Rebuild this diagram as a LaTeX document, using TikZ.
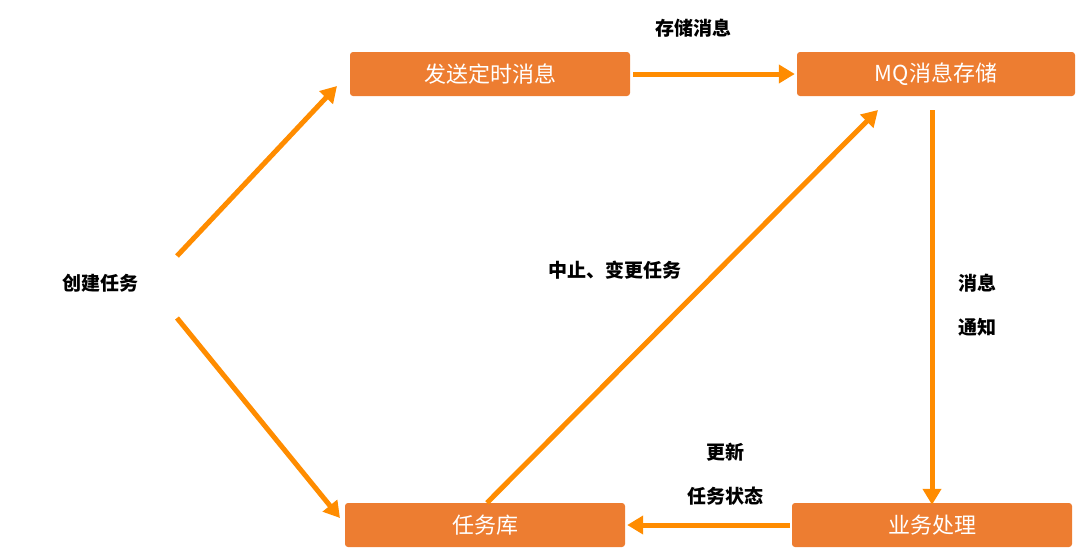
\documentclass[tikz,border=0pt]{standalone}
\usepackage{fontspec}
\setmainfont{Noto Sans CJK SC}
\usetikzlibrary{arrows.meta}
\definecolor{boxor}{HTML}{ED7D31}
\definecolor{arror}{HTML}{FF8C00}
\begin{document}
\begin{tikzpicture}[x=1pt,y=-1pt,
  box/.style={fill=boxor,rounded corners=3pt,minimum width=280pt,minimum height=44pt,text=white,font=\fontsize{22}{26}\selectfont,inner sep=0pt},
  arr/.style={draw=arror,line width=5pt,-{Triangle[length=16pt,width=18pt]}},
  lab/.style={font=\fontsize{19}{23}\selectfont\bfseries,text=black}]
\useasboundingbox (0,0) rectangle (1080,558);
\node[box] (send) at (490,74) {发送定时消息};
\node[box,minimum width=278pt] (mq) at (936,74) {MQ消息存储};
\node[box] (db) at (485,525) {任务库};
\node[box] (biz) at (932,525) {业务处理};
\node[lab] (create) at (100,283) {创建任务};
\coordinate (c1) at (177,256);
\coordinate (c2) at (177,318);
\draw[arr] (c1) -- (337,86);
\draw[arr] (c2) -- (340,518);
\draw[arr] (send.east) ++(3,0) -- ([xshift=-2pt]mq.west);
\node[lab] (l1) at (693,28) {存储消息};
\draw[arr] ([xshift=2pt]db.north) -- (878,110);
\node[lab] (l2) at (615,270) {中止、变更任务};
\draw[arr] (932,110) -- ([yshift=-2pt]biz.north);
\node[lab] (l3) at (977,283) {消息};
\node[lab] (l4) at (977,327) {通知};
\draw[arr] ([xshift=-2pt]biz.west) -- ([xshift=2pt]db.east);
\node[lab] (l5) at (725,452) {更新};
\node[lab] (l6) at (725,496) {任务状态};
\end{tikzpicture}
\end{document}
